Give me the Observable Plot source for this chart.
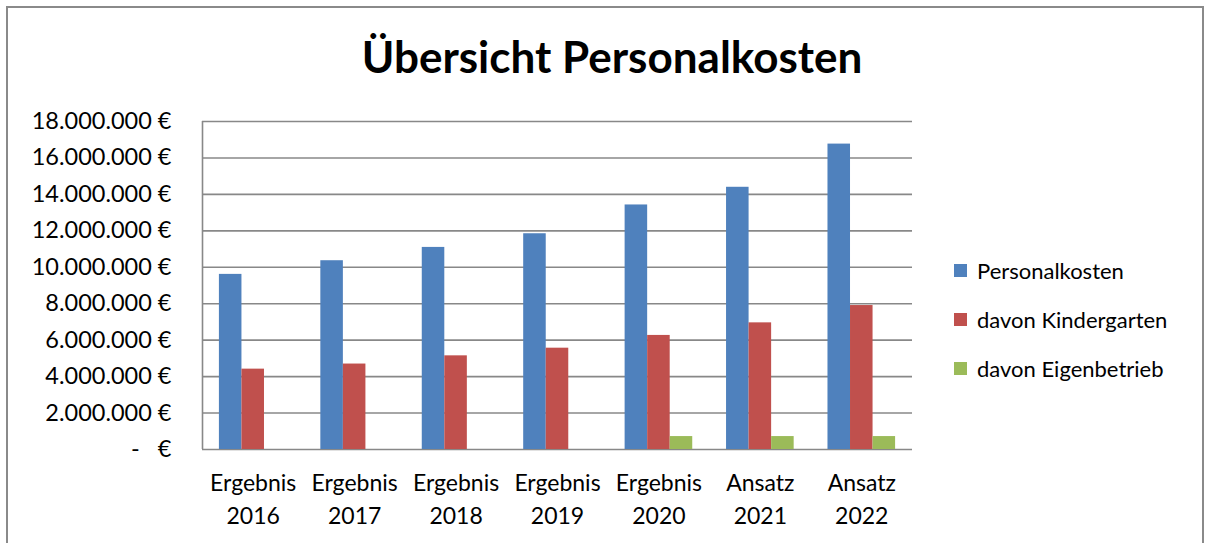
<!DOCTYPE html>
<html>
<head>
<meta charset="utf-8">
<script src="https://cdn.jsdelivr.net/npm/d3@7"></script>
<script src="https://cdn.jsdelivr.net/npm/@observablehq/plot@0.6"></script>
<style>
  html, body { margin: 0; padding: 0; background: #fff; }
  #chart { position: relative; width: 1212px; height: 543px; overflow: hidden; font-family: Lato, "Open Sans", sans-serif; color: #000; }
  #border { position: absolute; left: 6px; top: 6px; width: 1198px; height: 600px; border: 2px solid #8a8a8a; box-sizing: border-box; }
  #title { position: absolute; left: 0; width: 1224px; top: 30px; text-align: center; font-weight: bold; font-size: 44px; }
  #plot { position: absolute; left: 0; top: 100px; }
  #legend { position: absolute; left: 954px; top: 246px; font-size: 22px; }
  .item { display: flex; align-items: center; height: 49px; margin-top: 0; }
  .sw { width: 13px; height: 13px; margin-right: 10px; }
</style>
</head>
<body>
<div id="chart">
  <div id="border"></div>
  <div id="title">Übersicht Personalkosten</div>
  <div id="plot"></div>
  <div id="legend"></div>
</div>
<script>
const categories = ["Ergebnis 2016", "Ergebnis 2017", "Ergebnis 2018", "Ergebnis 2019", "Ergebnis 2020", "Ansatz 2021", "Ansatz 2022"];
const series = ["Personalkosten", "davon Kindergarten", "davon Eigenbetrieb"];
const personalkosten = [9610000, 10360000, 11090000, 11840000, 13420000, 14390000, 16760000];
const kindergarten = [4410000, 4690000, 5140000, 5560000, 6260000, 6950000, 7900000];
const eigenbetrieb = [null, null, null, null, 710000, 710000, 710000];
const colors = ["#4F81BD", "#C0504D", "#9BBB59"];
const yTicks = [0, 2000000, 4000000, 6000000, 8000000, 10000000, 12000000, 14000000, 16000000, 18000000];

const values = [personalkosten, kindergarten, eigenbetrieb];
const rows = categories.flatMap((c, i) => series.map((s, j) => ({cat: c, i, s, j, v: values[j][i]})))
  .filter(d => d.v != null);

const barW = 2 / 9;
const fmt = d => d === 0 ? "-\u00a0\u00a0\u00a0€" : d3.format(",")(d).replace(/,/g, ".") + " €";

const chart = Plot.plot({
  width: 940,
  height: 443,
  marginLeft: 202,
  marginRight: 28,
  marginTop: 21,
  marginBottom: 94,
  style: {fontFamily: "Lato, 'Open Sans', sans-serif", color: "#000", background: "transparent"},
  x: {domain: [-0.5, categories.length - 0.5]},
  y: {domain: [0, 18000000]},
  color: {domain: series, range: colors},
  marks: [
    Plot.ruleY(yTicks, {stroke: "#888", strokeWidth: 1.6}),
    Plot.ruleX([-0.5], {stroke: "#888", strokeWidth: 1.6}),
    Plot.rectY(rows, {
      x1: d => d.i - 1/3 + d.j * barW,
      x2: d => d.i - 1/3 + (d.j + 1) * barW,
      y: "v",
      fill: "s"
    }),
    Plot.axisY(yTicks, {tickSize: 0, tickPadding: 31, tickFormat: fmt, fontSize: 23.5, label: null}),
    Plot.axisX(d3.range(categories.length), {
      tickSize: 0, tickPadding: 19, fontSize: 23, lineHeight: 1.4,
      tickFormat: i => categories[i].replace(" ", "\n"), label: null
    })
  ]
});
document.getElementById("plot").appendChild(chart);

const legend = document.getElementById("legend");
series.forEach((s, j) => {
  const it = document.createElement("div");
  it.className = "item";
  it.innerHTML = `<div class="sw" style="background:${colors[j]}"></div><span>${s}</span>`;
  legend.appendChild(it);
});
</script>
</body>
</html>
